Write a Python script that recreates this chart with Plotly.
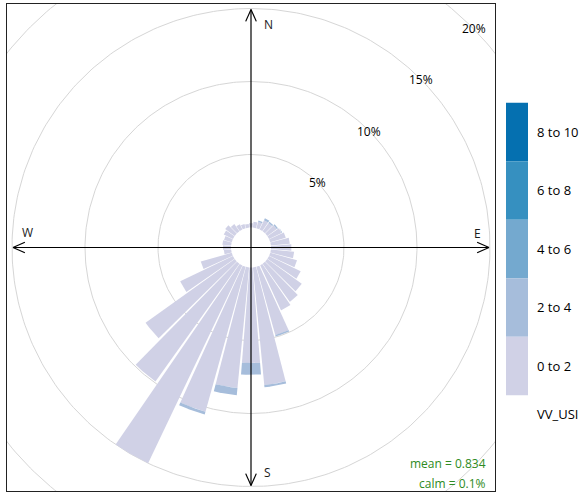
import numpy as np
import plotly.graph_objects as go

# ---------------- data (percent of observations) ----------------
directions = [10, 20, 30, 40, 50, 60, 70, 80, 90, 100, 110, 120,
              130, 140, 150, 160, 170, 180, 190, 200, 210, 220, 230, 240,
              250, 260, 270, 280, 290, 300, 310, 320, 330, 340, 350, 360]
ws_0_2 = [0.40, 0.45, 0.70, 0.70, 0.80, 0.95, 1.10, 1.30, 1.40, 1.60, 1.90, 2.40,
          2.90, 3.20, 3.40, 4.85, 8.10, 6.55, 8.30, 10.30, 15.00, 9.90, 7.50, 4.00,
          2.20, 0.50, 0.55, 0.60, 0.55, 0.70, 0.80, 0.60, 0.40, 0.30, 0.25, 0.30]
ws_2_4 = [0.00, 0.10, 0.15, 0.10, 0.10, 0.05, 0.00, 0.00, 0.00, 0.00, 0.00, 0.00,
          0.00, 0.00, 0.00, 0.10, 0.15, 0.80, 0.50, 0.20, 0.00, 0.00, 0.00, 0.00,
          0.00, 0.00, 0.00, 0.00, 0.00, 0.00, 0.00, 0.00, 0.00, 0.00, 0.00, 0.00]
ws_4_6 = [0.0] * 36
ws_6_8 = [0.0] * 36
ws_8_10 = [0.0] * 36
bin_labels = ["0 to 2", "2 to 4", "4 to 6", "6 to 8", "8 to 10"]
bin_colors = ["#D0D1E6", "#A6BDDB", "#74A9CF", "#3690C0", "#0570B0"]
grid_levels = [5, 10, 15, 20, 25]
grid_labels = ["5%", "10%", "15%", "20%", ""]
legend_title = "VV_USI"
mean_text = "mean = 0.834"
calm_text = "calm = 0.1%"

# ---------------- geometry ----------------
W, H = 585, 495
ml, mr, mt, mb = 7, 90, 4, 4
pw, ph = W - ml - mr, H - mt - mb
scale = 14.6                     # px per percent
hole = 20 / scale                # centre hole (offset)
xr = pw / 2 / scale
yr = ph / 2 / scale
seg = 0.9                        # wedge width fraction of 10 deg
angle = 10

fig = go.Figure()

# grid circles
t = np.linspace(0, 2 * np.pi, 361)
for lv in grid_levels:
    r = lv + hole
    fig.add_trace(go.Scatter(x=r * np.sin(t), y=r * np.cos(t), mode="lines",
                             line=dict(color="#D6D6D6", width=1),
                             hoverinfo="skip", showlegend=False))

# wedges
series = [ws_0_2, ws_2_4, ws_4_6, ws_6_8, ws_8_10]
for i, d in enumerate(directions):
    cum = 0.0
    for s, col in zip(series, bin_colors):
        v = s[i]
        if v <= 0:
            continue
        r1, r2 = hole + cum, hole + cum + v
        th = np.radians(np.linspace(d - seg * angle / 2, d + seg * angle / 2, 30))
        xs = np.concatenate([r2 * np.sin(th), r1 * np.sin(th[::-1])])
        ys = np.concatenate([r2 * np.cos(th), r1 * np.cos(th[::-1])])
        fig.add_trace(go.Scatter(x=np.append(xs, xs[0]), y=np.append(ys, ys[0]),
                                 mode="lines", fill="toself", fillcolor=col,
                                 line=dict(width=0, color=col),
                                 hoverinfo="skip", showlegend=False))
        cum += v

# axis arrows
L = 238 / scale
ah = 13 / scale
aa = np.radians(24)
axes_x, axes_y = [], []
for bearing in [0, 90, 180, 270]:
    b = np.radians(bearing)
    tipx, tipy = L * np.sin(b), L * np.cos(b)
    axes_x += [0, tipx, None]
    axes_y += [0, tipy, None]
    for sgn in (-1, 1):
        bb = b + np.pi + sgn * aa
        axes_x += [tipx, tipx + ah * np.sin(bb), None]
        axes_y += [tipy, tipy + ah * np.cos(bb), None]
fig.add_trace(go.Scatter(x=axes_x, y=axes_y, mode="lines",
                         line=dict(color="black", width=1.2),
                         hoverinfo="skip", showlegend=False))

annotations = []
font = "Open Sans, Liberation Sans, sans-serif"
# compass labels
for lab, x, y in [("N", 17, 223), ("S", 16, -225), ("W", -224, 15), ("E", 226, 14)]:
    annotations.append(dict(x=x / scale, y=y / scale, xref="x", yref="y", text=lab,
                            showarrow=False, font=dict(size=12, color="#1a1a1a", family=font)))
# grid labels
for lv, lab in zip(grid_levels, grid_labels):
    if not lab:
        continue
    r = lv + hole
    a = np.radians(45.5)
    annotations.append(dict(x=r * np.sin(a), y=r * np.cos(a), xref="x", yref="y",
                            text=lab, showarrow=False,
                            font=dict(size=12, color="black", family=font)))

# legend (key)
shapes = []
kx0, kx1 = 506, 528
ktop, seg_h = 102.7, 58.5
def px2paper_x(px):
    return (px - ml) / pw
def px2paper_y(py):
    return (H - mb - py) / ph
for j, (lab, col) in enumerate(zip(bin_labels[::-1], bin_colors[::-1])):
    y0 = ktop + j * seg_h
    shapes.append(dict(type="rect", xref="paper", yref="paper",
                       x0=px2paper_x(kx0), x1=px2paper_x(kx1),
                       y0=px2paper_y(y0 + seg_h), y1=px2paper_y(y0),
                       fillcolor=col, line=dict(width=0)))
    annotations.append(dict(x=px2paper_x(535), y=px2paper_y(y0 + seg_h / 2),
                            xref="paper", yref="paper", text=lab, showarrow=False,
                            xanchor="left", yanchor="middle",
                            font=dict(size=13, color="black", family=font)))
annotations.append(dict(x=px2paper_x(535), y=px2paper_y(414), xref="paper", yref="paper",
                        text=legend_title, showarrow=False, xanchor="left", yanchor="middle",
                        font=dict(size=13, color="black", family=font)))
# mean / calm
annotations.append(dict(x=px2paper_x(488), y=px2paper_y(463), xref="paper", yref="paper",
                        text=mean_text, showarrow=False, xanchor="right", yanchor="middle",
                        font=dict(size=12, color="#2E8B22", family=font)))
annotations.append(dict(x=px2paper_x(488), y=px2paper_y(483), xref="paper", yref="paper",
                        text=calm_text, showarrow=False, xanchor="right", yanchor="middle",
                        font=dict(size=12, color="#2E8B22", family=font)))

fig.update_layout(
    width=W, height=H, margin=dict(l=ml, r=mr, t=mt, b=mb),
    paper_bgcolor="white", plot_bgcolor="white",
    xaxis=dict(range=[-xr, xr], showgrid=False, zeroline=False, showticklabels=False,
               ticks="", showline=True, mirror=True, linecolor="#222", linewidth=1),
    yaxis=dict(range=[-yr, yr], showgrid=False, zeroline=False, showticklabels=False,
               ticks="", showline=True, mirror=True, linecolor="#222", linewidth=1),
    shapes=shapes, annotations=annotations, showlegend=False,
)
fig.write_html("out.html", config={"displayModeBar": False},
               post_script="document.body.style.margin='0';document.body.style.overflow='hidden';")
